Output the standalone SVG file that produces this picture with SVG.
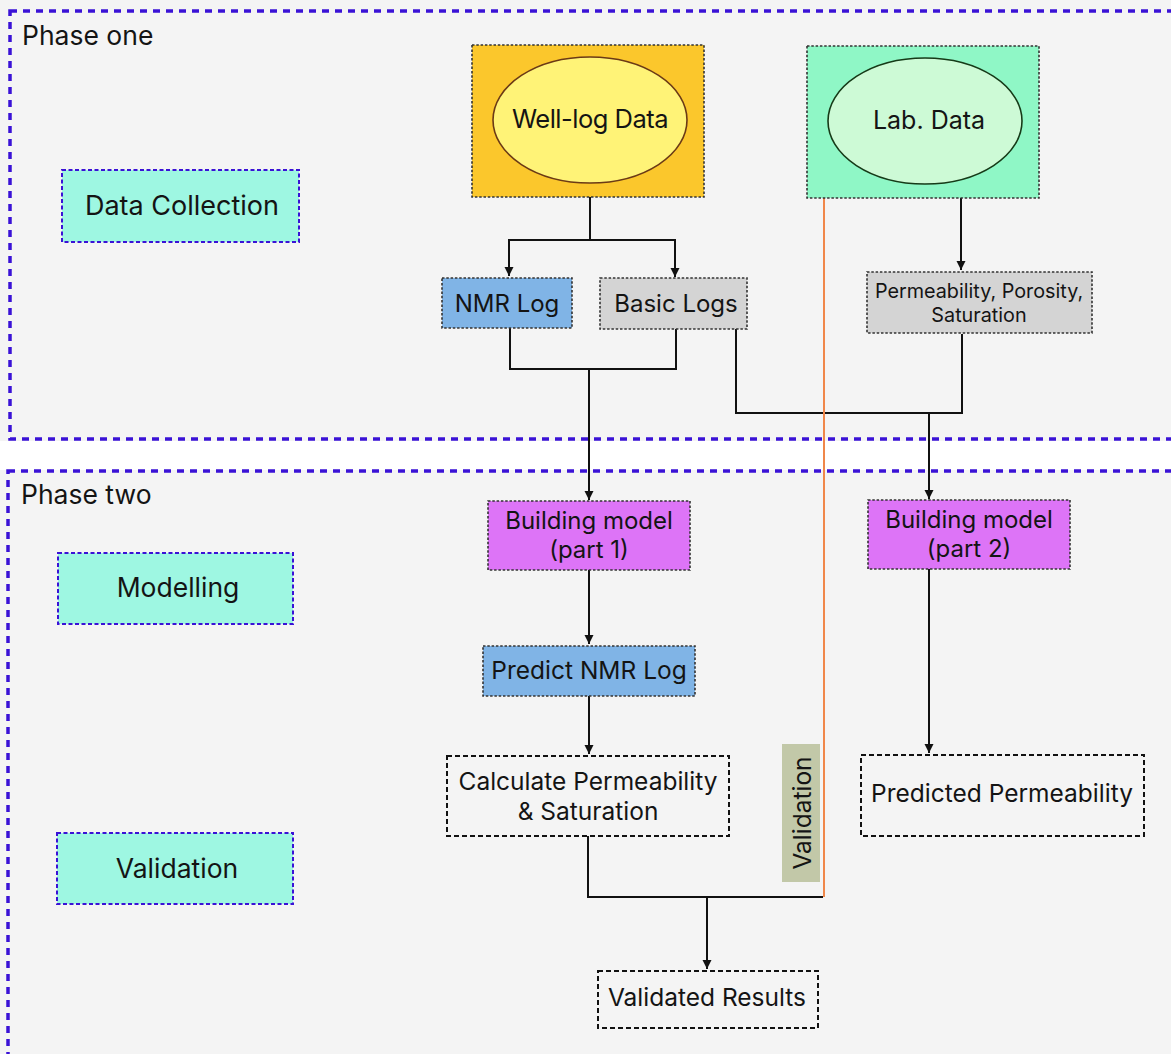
<svg xmlns="http://www.w3.org/2000/svg" width="1171" height="1054" viewBox="0 0 1171 1054">
  <defs>
    <marker id="arrow" markerUnits="userSpaceOnUse" markerWidth="10" markerHeight="10" refX="9" refY="5" orient="auto">
      <path d="M0,0.5 L9,5 L0,9.5 z" fill="#111"/>
    </marker>
    <style>
      text { font-family: "Inter", "DejaVu Sans", sans-serif; fill: #141414; }
      .phase { fill: #f4f4f4; stroke: #3a12d6; stroke-width: 3.5; stroke-dasharray: 7 6; }
      .stage { fill: #9ef7e2; stroke: #3a12d6; stroke-width: 2; stroke-dasharray: 4 2.5; }
      .dotted { stroke: #333; stroke-width: 1.6; stroke-dasharray: 2.5 1.8; }
      .dashed { fill: none; stroke: #111; stroke-width: 2; stroke-dasharray: 5 3; }
      .wire { fill: none; stroke: #111; stroke-width: 2; }
      .mid { text-anchor: middle; }
    </style>
  </defs>

  <!-- page background and the white gap between the two phases -->
  <rect x="0" y="0" width="1171" height="1054" fill="#f4f4f4"/>
  <rect x="0" y="441" width="1171" height="29" fill="#ffffff"/>

  <!-- phase frames -->
  <g id="phase-one">
    <rect class="phase" x="10" y="11" width="1180" height="428"/>
    <text x="22" y="45" font-size="26.5">Phase one</text>
  </g>
  <g id="phase-two">
    <rect class="phase" x="8" y="471" width="1182" height="620"/>
    <text x="21" y="504" font-size="26.5">Phase two</text>
  </g>

  <!-- connectors -->
  <g id="connectors">
    <path class="wire" d="M590,197 V240 H509 V276" marker-end="url(#arrow)"/>
    <path class="wire" d="M590,240 H675 V277" marker-end="url(#arrow)"/>
    <path class="wire" d="M961,198 V270" marker-end="url(#arrow)"/>
    <path class="wire" d="M510,328 V369 H676 V329"/>
    <path class="wire" d="M589,369 V500" marker-end="url(#arrow)"/>
    <path class="wire" d="M736,329 V413 H962 V334"/>
    <path class="wire" d="M929,413 V499" marker-end="url(#arrow)"/>
    <path class="wire" d="M589,570 V644" marker-end="url(#arrow)"/>
    <path class="wire" d="M589,696 V754" marker-end="url(#arrow)"/>
    <path class="wire" d="M929,569 V753" marker-end="url(#arrow)"/>
    <path class="wire" d="M588,836 V897 H823"/>
    <path class="wire" d="M707,897 V969" marker-end="url(#arrow)"/>
    <path d="M824,198 V897" fill="none" stroke="#f0874a" stroke-width="2"/>
  </g>

  <!-- stage labels on the left -->
  <g id="stage-data-collection">
    <rect class="stage" x="62" y="170" width="237" height="72"/>
    <text class="mid" x="182" y="215" font-size="27">Data Collection</text>
  </g>
  <g id="stage-modelling">
    <rect class="stage" x="58" y="553" width="235" height="71"/>
    <text class="mid" x="178" y="597" font-size="26.5">Modelling</text>
  </g>
  <g id="stage-validation">
    <rect class="stage" x="57" y="833" width="236" height="71"/>
    <text class="mid" x="177" y="878" font-size="26.5">Validation</text>
  </g>

  <!-- data sources -->
  <g id="well-log-data">
    <rect class="dotted" x="472" y="45" width="232" height="152" fill="#fbc72c" stroke="#7a5a20"/>
    <ellipse cx="590" cy="120" rx="97" ry="63" fill="#fff377" stroke="#6b3a16" stroke-width="1.6"/>
    <text class="mid" x="590" y="128" font-size="25.5" letter-spacing="-0.5">Well-log Data</text>
  </g>
  <g id="lab-data">
    <rect class="dotted" x="807" y="46" width="232" height="152" fill="#8ff7c6" stroke="#1f5a55"/>
    <ellipse cx="925" cy="121" rx="97" ry="63" fill="#cdfad6" stroke="#163a18" stroke-width="1.6"/>
    <text class="mid" x="929" y="129" font-size="25">Lab. Data</text>
  </g>

  <!-- log sets -->
  <g id="nmr-log">
    <rect class="dotted" x="442" y="278" width="130" height="50" fill="#80b4e6"/>
    <text class="mid" x="507" y="312" font-size="24">NMR Log</text>
  </g>
  <g id="basic-logs">
    <rect class="dotted" x="600" y="278" width="147" height="51" fill="#d4d4d4"/>
    <text class="mid" x="676" y="312" font-size="24">Basic Logs</text>
  </g>
  <g id="core-properties">
    <rect class="dotted" x="867" y="272" width="225" height="61" fill="#d4d4d4"/>
    <text class="mid" x="979" y="298" font-size="19.8">Permeability, Porosity,</text>
    <text class="mid" x="979" y="322" font-size="19.8">Saturation</text>
  </g>

  <!-- modelling -->
  <g id="model-part-1">
    <rect class="dotted" x="488" y="501" width="202" height="69" fill="#dd74f7" stroke="#222"/>
    <text class="mid" x="589" y="529" font-size="24">Building model</text>
    <text class="mid" x="589" y="558" font-size="24">(part 1)</text>
  </g>
  <g id="model-part-2">
    <rect class="dotted" x="868" y="500" width="202" height="69" fill="#dd74f7" stroke="#222"/>
    <text class="mid" x="969" y="528" font-size="24">Building model</text>
    <text class="mid" x="969" y="557" font-size="24">(part 2)</text>
  </g>
  <g id="predict-nmr-log">
    <rect class="dotted" x="483" y="646" width="212" height="50" fill="#80b4e6"/>
    <text class="mid" x="589" y="679" font-size="24.5">Predict NMR Log</text>
  </g>

  <!-- results -->
  <g id="calculate-permeability">
    <rect class="dashed" x="447" y="756" width="282" height="80"/>
    <text class="mid" x="588" y="790" font-size="24.5">Calculate Permeability</text>
    <text class="mid" x="588" y="820" font-size="24.5">&amp; Saturation</text>
  </g>
  <g id="predicted-permeability">
    <rect class="dashed" x="861" y="755" width="283" height="81"/>
    <text class="mid" x="1002" y="802" font-size="24.5">Predicted Permeability</text>
  </g>
  <g id="validation-tag">
    <rect x="782" y="744" width="38" height="138" fill="#c2c8a8"/>
    <text class="mid" transform="translate(811,813) rotate(-90)" font-size="24.5">Validation</text>
  </g>
  <g id="validated-results">
    <rect class="dashed" x="598" y="971" width="220" height="57"/>
    <text class="mid" x="707" y="1006" font-size="24.5">Validated Results</text>
  </g>
</svg>
